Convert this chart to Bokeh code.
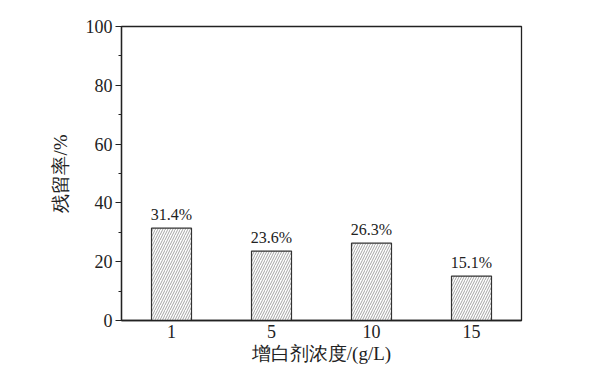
from bokeh.plotting import figure
from bokeh.models import ColumnDataSource, Range1d, FixedTicker
from bokeh.core.properties import value
from bokeh.embed import file_html
from bokeh.resources import INLINE

categories = ["1", "5", "10", "15"]
values = [31.4, 23.6, 26.3, 15.1]
labels = ["31.4%", "23.6%", "26.3%", "15.1%"]
y_ticks = [0, 20, 40, 60, 80, 100]

SERIF = "Liberation Serif"

src = ColumnDataSource(dict(x=categories, top=values, label=labels))

p = figure(width=616, height=373, x_range=categories, y_range=Range1d(0, 100),
           output_backend="svg", toolbar_location=None,
           min_border_left=121, min_border_right=95, min_border_top=26, min_border_bottom=53)
p.x_range.range_padding = 0
p.x_range.factor_padding = 0

p.vbar(x="x", top="top", width=0.4, source=src, fill_color="white",
       line_color="#333333", line_width=1.2,
       hatch_pattern="/", hatch_color="#8c8c8c", hatch_scale=5, hatch_weight=0.8)

p.text(x="x", y="top", text="label", source=src, y_offset=-5,
       text_align="center", text_baseline="bottom",
       text_font=value(SERIF), text_font_size=value("16px"),
       text_color="#222222")

p.grid.visible = False
p.outline_line_color = "#222222"
p.outline_line_width = 1.3
p.background_fill_color = "white"
p.border_fill_color = "white"

p.yaxis.ticker = FixedTicker(ticks=y_ticks, minor_ticks=[10, 30, 50, 70, 90])
p.yaxis.major_tick_out = 6
p.yaxis.major_tick_in = 0
p.yaxis.minor_tick_out = 3
p.yaxis.minor_tick_in = 0
p.xaxis.major_tick_out = 0
p.xaxis.major_tick_in = 0

for ax in (p.xaxis, p.yaxis):
    ax.axis_line_color = "#222222"
    ax.axis_line_width = 1.3
    ax.major_tick_line_color = "#222222"
    ax.minor_tick_line_color = "#222222"
    ax.major_label_text_font = SERIF
    ax.major_label_text_font_size = "18px"
    ax.major_label_text_color = "#222222"
    ax.axis_label_text_font = SERIF
    ax.axis_label_text_font_size = "19px"
    ax.axis_label_text_font_style = "normal"
    ax.axis_label_text_color = "#222222"

p.xaxis.axis_label = "增白剂浓度/(g/L)"
p.yaxis.axis_label = "残留率/%"
p.xaxis.major_label_standoff = 4
p.xaxis.axis_label_standoff = 2
p.yaxis.major_label_standoff = 3
p.yaxis.axis_label_standoff = 12

open("out.html", "w").write(file_html(p, INLINE))
